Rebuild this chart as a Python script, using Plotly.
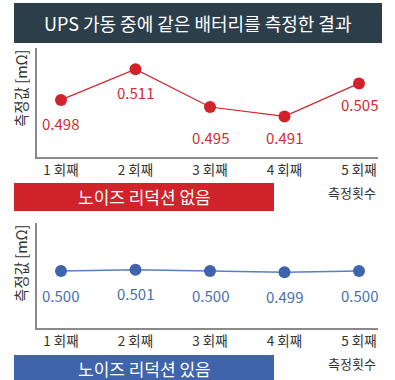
import plotly.graph_objects as go

# Measurement data
rounds = ["1 회째", "2 회째", "3 회째", "4 회째", "5 회째"]
without_reduction = [0.498, 0.511, 0.495, 0.491, 0.505]
with_reduction = [0.500, 0.501, 0.500, 0.499, 0.500]

title_text = "UPS 가동 중에 같은 배터리를 측정한 결과"
y_title = "측정값 [mΩ]"
x_title = "측정횟수"
label_without = "노이즈 리덕션 없음"
label_with = "노이즈 리덕션 있음"

# Styles
W, H = 395, 380
FONT = "Noto Sans CJK KR"
DARK = "#2c3e4a"
RED = "#d1232a"
RED_TEXT = "#d42b33"
BLUE = "#3f64ab"
BLUE_TEXT = "#4a6fb0"
BLUE_LINE = "#5a7fc0"
AXIS = "#8a8a8a"
TEXT = "#333333"
top_label_shift = [-24, -23, -31, -21, -21]
bottom_label_shift = [-24, -24, -24, -24, -24]


def px(x):
    return x / W


def py(y):
    return 1 - y / H


fig = go.Figure()

fig.add_trace(go.Scatter(
    x=list(range(len(rounds))), y=without_reduction, mode="lines+markers",
    line=dict(color=RED, width=1.2), marker=dict(color=RED, size=12),
    xaxis="x", yaxis="y", showlegend=False, hoverinfo="skip"))

fig.add_trace(go.Scatter(
    x=list(range(len(rounds))), y=with_reduction, mode="lines+markers",
    line=dict(color=BLUE_LINE, width=1.5), marker=dict(color=BLUE, size=12),
    xaxis="x2", yaxis="y2", showlegend=False, hoverinfo="skip"))

annotations = []
for i, v in enumerate(without_reduction):
    annotations.append(dict(x=i, y=v, xref="x", yref="y", text=f"{v:.3f}",
                            showarrow=False, yshift=top_label_shift[i],
                            font=dict(family=FONT, size=15, color=RED_TEXT)))
for i, v in enumerate(with_reduction):
    annotations.append(dict(x=i, y=v, xref="x2", yref="y2", text=f"{v:.3f}",
                            showarrow=False, yshift=bottom_label_shift[i],
                            font=dict(family=FONT, size=15, color=BLUE_TEXT)))

# Title, axis titles and panel captions
annotations += [
    dict(x=px(198), y=py(23), xref="paper", yref="paper", text=title_text,
         showarrow=False, xanchor="center", yanchor="middle",
         font=dict(family=FONT, size=18, color="white")),
    dict(x=px(20), y=py(47), xref="paper", yref="paper", text=y_title,
         textangle=-90, showarrow=False, xanchor="center", yanchor="top",
         font=dict(family=FONT, size=14.5, color=TEXT)),
    dict(x=px(20), y=py(222), xref="paper", yref="paper", text=y_title,
         textangle=-90, showarrow=False, xanchor="center", yanchor="top",
         font=dict(family=FONT, size=14.5, color=TEXT)),
    dict(x=px(378), y=py(192), xref="paper", yref="paper", text=x_title,
         showarrow=False, xanchor="right", yanchor="middle",
         font=dict(family=FONT, size=13, color=TEXT)),
    dict(x=px(378), y=py(363), xref="paper", yref="paper", text=x_title,
         showarrow=False, xanchor="right", yanchor="middle",
         font=dict(family=FONT, size=13, color=TEXT)),
    dict(x=px(144), y=py(197), xref="paper", yref="paper", text=label_without,
         showarrow=False, xanchor="center", yanchor="middle",
         font=dict(family=FONT, size=17, color="white")),
    dict(x=px(144), y=py(368), xref="paper", yref="paper", text=label_with,
         showarrow=False, xanchor="center", yanchor="middle",
         font=dict(family=FONT, size=17, color="white")),
]

shapes = [
    dict(type="rect", xref="paper", yref="paper", x0=px(14), x1=px(382),
         y0=py(43), y1=py(3), fillcolor=DARK, line=dict(width=0), layer="below"),
    dict(type="rect", xref="paper", yref="paper", x0=px(14), x1=px(274),
         y0=py(211), y1=py(183), fillcolor=RED, line=dict(width=0), layer="below"),
    dict(type="rect", xref="paper", yref="paper", x0=px(14), x1=px(274),
         y0=py(380), y1=py(355), fillcolor=BLUE, line=dict(width=0), layer="below"),
]

xaxis_common = dict(
    tickmode="array", tickvals=list(range(len(rounds))), ticktext=rounds,
    range=[-0.322, 4.255], showgrid=False, zeroline=False, ticks="",
    showline=True, linecolor=AXIS, linewidth=2,
    tickfont=dict(family=FONT, size=13.5, color=TEXT), fixedrange=True)
yaxis_common = dict(
    showgrid=False, zeroline=False, showticklabels=False, ticks="",
    showline=True, linecolor=AXIS, linewidth=2, fixedrange=True)

fig.update_layout(
    width=W, height=H, margin=dict(l=0, r=0, t=0, b=0),
    paper_bgcolor="white", plot_bgcolor="white",
    font=dict(family=FONT, color=TEXT),
    xaxis=dict(domain=[px(37), px(378)], anchor="y", **xaxis_common),
    yaxis=dict(domain=[py(157), py(48)], anchor="x",
               range=[0.4738, 0.5200], **yaxis_common),
    xaxis2=dict(domain=[px(37), px(378)], anchor="y2", **xaxis_common),
    yaxis2=dict(domain=[py(328), py(223)], anchor="x2",
                range=[0.4562, 0.5369], **yaxis_common),
    annotations=annotations, shapes=shapes,
)

fig.write_html("out.html")
